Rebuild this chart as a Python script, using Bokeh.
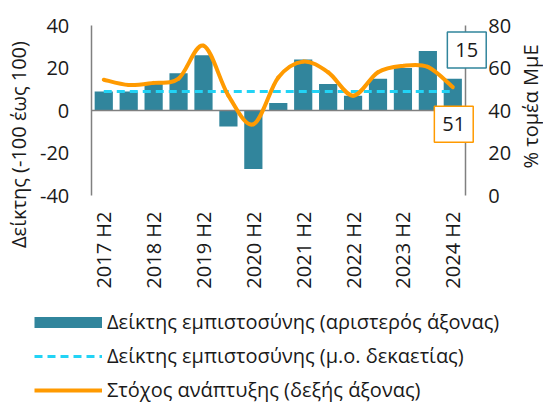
import numpy as np
from bokeh.plotting import figure
from bokeh.models import (Range1d, LinearAxis, FixedTicker, Legend, LegendItem,
                          Label, ColumnDataSource)
from bokeh.embed import file_html
from bokeh.resources import INLINE

# ---- data ----
periods = ["2017 H2", "2018 H1", "2018 H2", "2019 H1", "2019 H2", "2020 H1", "2020 H2",
           "2021 H1", "2021 H2", "2022 H1", "2022 H2", "2023 H1", "2023 H2", "2024 H1", "2024 H2"]
confidence = [9, 9, 12.5, 17.5, 26, -7.5, -27.5, 3.5, 24, 12.5, 7, 15, 20, 28, 15]
confidence_avg10 = [9, 9, 9, 9, 9, 9, 9, 9, 9, 9, 9, 9, 9, 9, 9]
growth_target = [54.5, 52, 53, 55, 70.5, 47, 33.5, 55.5, 63, 58, 47, 58, 61, 60.5, 51]
left_ticks = [-40, -20, 0, 20, 40]
right_ticks = [0, 20, 40, 60, 80]

TEAL = "#31859C"
CYAN = "#22D3F5"
ORANGE = "#FF9A00"
GRAY = "#808080"
FONT = "Open Sans"
TXT = "#1a1a1a"

W, H = 543, 403
# layout: pixel anchors of the plotting area inside the canvas
AX_LEFT_PX, STEP_PX = 90.8, 24.93          # left axis x, pixels per category step
TOP_PX, BOT_PX = 25, 195                   # y pixel of axis top / bottom

xs = np.arange(len(periods))
n = len(periods)
x_start = -0.5 - AX_LEFT_PX / STEP_PX
x_end = x_start + W / STEP_PX
ppu = (BOT_PX - TOP_PX) / (left_ticks[-1] - left_ticks[0])
yl_start = left_ticks[0] - (H - BOT_PX) / ppu
yl_end = left_ticks[-1] + TOP_PX / ppu
off = right_ticks[0] - left_ticks[0]
yr_start, yr_end = yl_start + off, yl_end + off

p = figure(width=W, height=H, output_backend="svg", toolbar_location=None,
           x_range=Range1d(x_start, x_end), y_range=Range1d(yl_start, yl_end),
           min_border=0, x_axis_type=None, y_axis_type=None)
p.extra_y_ranges = {"right": Range1d(yr_start, yr_end)}
p.outline_line_color = None
p.background_fill_color = "white"
p.border_fill_color = "white"

# bars
p.vbar(x=xs, top=confidence, width=0.73, fill_color=TEAL, line_color=None)

# zero line
p.segment(x0=[xs[0] - 0.5], y0=[0], x1=[xs[-1] + 0.5], y1=[0], line_color=GRAY, line_width=1.5)

# dashed avg line
avg_r = p.line(xs, confidence_avg10, line_color=CYAN, line_width=3, line_dash="8 5")

# smoothed growth line (Catmull-Rom as Bezier segments through the data points)
g = np.array(growth_target, dtype=float)
x = xs.astype(float)
xp = np.concatenate([[x[0]], x, [x[-1]]])
gp = np.concatenate([[g[0]], g, [g[-1]]])
bsrc = ColumnDataSource(dict(
    x0=x[:-1], y0=g[:-1], x1=x[1:], y1=g[1:],
    cx0=x[:-1] + (xp[2:-1] - xp[:-3]) / 6.0, cy0=g[:-1] + (gp[2:-1] - gp[:-3]) / 6.0,
    cx1=x[1:] - (xp[3:] - xp[1:-2]) / 6.0, cy1=g[1:] - (gp[3:] - gp[1:-2]) / 6.0))
p.bezier(x0="x0", y0="y0", x1="x1", y1="y1", cx0="cx0", cy0="cy0", cx1="cx1", cy1="cy1",
         source=bsrc, line_color=ORANGE, line_width=4, line_cap="round", y_range_name="right")

# legend swatches (no visible data, only used for the legend)
bar_swatch = p.line(x=[np.nan], y=[np.nan], line_color=TEAL, line_width=11)
orange_swatch = p.line(x=[np.nan], y=[np.nan], line_color=ORANGE, line_width=4,
                       y_range_name="right")

def style_axis(ax):
    ax.axis_line_color = GRAY
    ax.axis_line_width = 1.5
    ax.major_tick_line_color = None
    ax.minor_tick_line_color = None
    ax.major_tick_out = 0
    ax.major_tick_in = 0
    ax.minor_tick_out = 0
    ax.minor_tick_in = 0
    ax.major_label_text_font = FONT
    ax.major_label_text_font_size = "20px"
    ax.major_label_text_color = TXT

left = LinearAxis(ticker=FixedTicker(ticks=left_ticks), fixed_location=-0.5,
                  bounds=(left_ticks[0], left_ticks[-1]),
                  major_label_overrides={t: str(t) for t in left_ticks})
style_axis(left)
left.major_label_standoff = 22
p.add_layout(left, "left")

right = LinearAxis(y_range_name="right", ticker=FixedTicker(ticks=right_ticks),
                   fixed_location=n - 0.5, bounds=(right_ticks[0], right_ticks[-1]))
style_axis(right)
right.major_label_standoff = 23
p.add_layout(right, "right")

h2_idx = [i for i, s in enumerate(periods) if s.endswith("H2")]
bottom = LinearAxis(ticker=FixedTicker(ticks=h2_idx), fixed_location=left_ticks[0],
                    major_label_overrides={i: periods[i] for i in h2_idx})
style_axis(bottom)
bottom.axis_line_color = None
bottom.major_label_orientation = np.pi / 2
bottom.major_label_standoff = 16
p.add_layout(bottom, "below")

# axis titles
p.add_layout(Label(x=18, y=H - 144, x_units="screen", y_units="screen", angle=np.pi / 2,
                   text="Δείκτης (-100 έως 100)", text_align="center", text_baseline="middle",
                   text_font=FONT, text_font_size="20px", text_color=TXT))
p.add_layout(Label(x=530, y=H - 106, x_units="screen", y_units="screen", angle=np.pi / 2,
                   text="% τομέα ΜμΕ", text_align="center", text_baseline="middle",
                   text_font=FONT, text_font_size="20px", text_color=TXT))

# end-value boxes
box_pad = dict(left=8, right=8, top=11, bottom=11)
p.add_layout(Label(x=xs[-1], y=confidence[-1], x_offset=14, y_offset=28.6,
                   text=f"{confidence[-1]:g}", text_align="center", text_baseline="middle",
                   text_font=FONT, text_font_size="20px", text_color=TXT,
                   background_fill_color="white", border_line_color=TEAL, border_line_width=1.5,
                   padding=box_pad))
p.add_layout(Label(x=xs[-1], y=growth_target[-1], x_offset=1, y_offset=-37, y_range_name="right",
                   text=f"{growth_target[-1]:g}", text_align="center", text_baseline="middle",
                   text_font=FONT, text_font_size="20px", text_color=TXT,
                   background_fill_color="white", border_line_color=ORANGE, border_line_width=1.5,
                   padding=box_pad))

legend = Legend(items=[
    LegendItem(label="Δείκτης εμπιστοσύνης (αριστερός άξονας)", renderers=[bar_swatch]),
    LegendItem(label="Δείκτης εμπιστοσύνης (μ.ο. δεκαετίας)", renderers=[avg_r]),
    LegendItem(label="Στόχος ανάπτυξης (δεξής άξονας)", renderers=[orange_swatch]),
], location=(34, 0), orientation="vertical", border_line_color=None,
    background_fill_alpha=0, padding=0, margin=0, spacing=7,
    glyph_width=68, glyph_height=24, label_height=24, label_standoff=5,
    label_text_font=FONT, label_text_font_size="20px", label_text_color=TXT)
p.add_layout(legend, "center")

open("out.html", "w").write(file_html(p, INLINE))
